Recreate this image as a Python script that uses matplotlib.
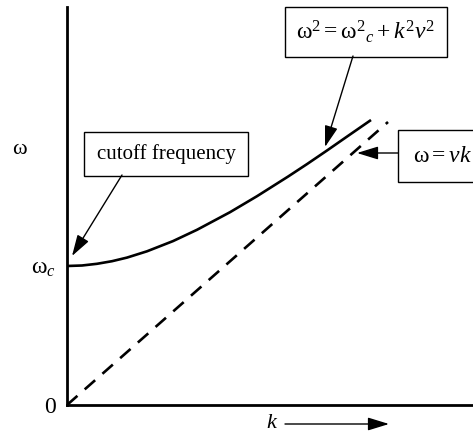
import matplotlib.pyplot as plt

plt.rcParams["font.family"] = ["Liberation Serif", "DejaVu Serif"]
plt.rcParams["mathtext.fontset"] = "custom"
plt.rcParams["mathtext.rm"] = "Liberation Serif"
plt.rcParams["mathtext.it"] = "Liberation Serif:italic"
plt.rcParams["lines.scale_dashes"] = False

# dispersion curve omega(k)
k_curve = [0, 15, 30, 45, 60, 80, 106, 130, 163, 190, 221, 240, 260, 280, 304]
w_curve = [139, 139.5, 141.2, 143.8, 147.4, 153.7, 163.9, 175.2, 192.8, 208.8,
           228.4, 240.9, 254.5, 268.4, 285]

# light line omega = v k
k_light = [0, 321]
w_light = [0, 283]

w_cutoff = 139
ytick_labels = ["0", r"$\mathrm{\omega}_c$"]

fig = plt.figure(figsize=(4.73, 4.37), dpi=100)
ax = fig.add_axes([67 / 473, 32 / 437, 406 / 473, 398 / 437])
ax.set_xlim(0, 406)
ax.set_ylim(0, 398)

ax.plot(k_curve, w_curve, color="black", lw=1.9, solid_capstyle="butt",
        solid_joinstyle="round")
ax.plot(k_light, w_light, color="black", lw=1.9, dashes=(10, 7))

for side in ["top", "right"]:
    ax.spines[side].set_visible(False)
for side in ["left", "bottom"]:
    ax.spines[side].set_linewidth(2)

ax.set_xticks([])
ax.set_yticks([0, w_cutoff])
ax.set_yticklabels(ytick_labels, fontsize=17)
ax.tick_params(axis="y", length=0, pad=8)

ax.text(-47, 256, r"$\mathrm{\omega}$", fontsize=16, ha="center", va="center")

# k axis label with arrow
ax.text(205, -19, "$k$", fontsize=16, ha="center", va="center")
ax.annotate("", xy=(322, -19), xytext=(218, -19), annotation_clip=False,
            arrowprops=dict(arrowstyle="-|>,head_length=1.3,head_width=0.4",
                            color="black", lw=1.0, shrinkA=0, shrinkB=0))

box = dict(boxstyle="square,pad=0.5", fc="white", ec="black", lw=1.0)
arrow = dict(arrowstyle="-|>,head_length=1.3,head_width=0.4",
             color="black", lw=1.0, shrinkA=0, shrinkB=0)

ax.text(99, 251, "cutoff frequency", fontsize=15, ha="center", va="center",
        bbox=dict(boxstyle="square,pad=0.6", fc="white", ec="black", lw=1.0))
ax.annotate("", xy=(5, 149), xytext=(55, 230), arrowprops=arrow)

ax.text(299, 373, r"$\mathrm{\omega}^2 = \mathrm{\omega}^2{}_c + k^2v^2$",
        fontsize=17, ha="center", va="center", bbox=box)
ax.annotate("", xy=(258, 258), xytext=(286, 349), arrowprops=arrow)

ax.text(376, 249, r"$\mathrm{\omega} = vk$", fontsize=17, ha="center", va="center",
        bbox=dict(boxstyle="square,pad=0.65", fc="white", ec="black", lw=1.0))
ax.annotate("", xy=(290, 252), xytext=(331, 252), arrowprops=arrow)

fig.savefig("out.png", dpi=100)
